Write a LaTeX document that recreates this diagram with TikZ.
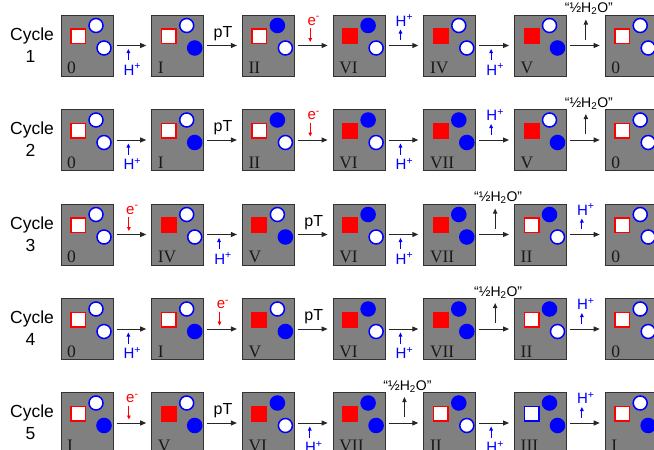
\documentclass[tikz,border=0pt]{standalone}
\usepackage{fontspec}
\setmainfont{Liberation Sans}
\newfontfamily\rmnum{Liberation Serif}
\usetikzlibrary{calc,arrows.meta}
\definecolor{boxgray}{HTML}{808080}
\definecolor{boxedge}{HTML}{333333}
\definecolor{arrgray}{HTML}{262626}
\definecolor{pred}{HTML}{FF0000}
\definecolor{pblue}{HTML}{0000FF}
\tikzset{
 pbox/.style={draw=boxedge, fill=boxgray, line width=1pt, minimum width=52pt, minimum height=61pt, inner sep=0pt, outer sep=0pt},
 sqbase/.style={rectangle, line width=1.5pt, minimum size=14.5pt, inner sep=0pt},
 sqo/.style={sqbase, draw=pred, fill=white},
 sqf/.style={sqbase, draw=pred, fill=pred},
 sqb/.style={sqbase, draw=pblue, fill=white},
 cbase/.style={circle, line width=1.5pt, minimum size=14pt, inner sep=0pt},
 co/.style={cbase, draw=pblue, fill=white},
 cf/.style={cbase, draw=pblue, fill=pblue},
 numlab/.style={font=\rmnum\fontsize{17.5}{17.5}\selectfont, inner sep=0pt, anchor=base west, text=black!90},
 cyc/.style={font=\fontsize{17.5}{17.5}\selectfont, inner sep=0pt, anchor=base},
 arr/.style={draw=arrgray, line width=1pt, -{Triangle[length=6pt,width=5pt]}, shorten <=3.5pt, shorten >=5.5pt},
 harr/.style={draw=pblue, line width=0.9pt, -{Triangle[length=4pt,width=3.6pt]}},
 earr/.style={draw=pred, line width=0.9pt, -{Triangle[length=4pt,width=3.6pt]}},
 warr/.style={draw=arrgray, line width=1pt, -{Triangle[length=5pt,width=4.2pt]}},
 hlab/.style={font=\fontsize{15}{15}\selectfont, text=pblue, inner sep=0pt, anchor=base},
 elab/.style={font=\fontsize{15}{15}\selectfont, text=pred, inner sep=0pt, anchor=base},
 plab/.style={font=\fontsize{16}{16}\selectfont, inner sep=0pt, anchor=base},
 wlab/.style={font=\fontsize{14}{14}\selectfont, inner sep=0pt, anchor=base},
}
\newcommand\stbox[7]{%
 \node[pbox] (#1) at (#2,#3) {};
 \node[#5] (#1s) at ($(#1)+(-9,-9.5)$) {};
 \node[#6] (#1t) at ($(#1)+(9,-20)$) {};
 \node[#7] (#1b) at ($(#1)+(17,2.5)$) {};
 \node[numlab] (#1l) at ($(#1)+(-20,28)$) {#4};
}
\newcommand\StZero[3]{\stbox{#1}{#2}{#3}{0}{sqo}{co}{co}}
\newcommand\StI[3]{\stbox{#1}{#2}{#3}{I}{sqo}{co}{cf}}
\newcommand\StII[3]{\stbox{#1}{#2}{#3}{II}{sqo}{cf}{co}}
\newcommand\StIII[3]{\stbox{#1}{#2}{#3}{III}{sqb}{cf}{cf}}
\newcommand\StIV[3]{\stbox{#1}{#2}{#3}{IV}{sqf}{co}{co}}
\newcommand\StV[3]{\stbox{#1}{#2}{#3}{V}{sqf}{co}{cf}}
\newcommand\StVI[3]{\stbox{#1}{#2}{#3}{VI}{sqf}{cf}{co}}
\newcommand\StVII[3]{\stbox{#1}{#2}{#3}{VII}{sqf}{cf}{cf}}
\newcommand\gap[2]{%
 \draw[arr] (#1) -- (#2);
 \coordinate (#1g) at ($(#1)!0.5!(#2)$);
}
\newcommand\Hin[2]{\gap{#1}{#2}%
 \coordinate (#1p) at ($(#1g)+(-4,14.5)$);
 \coordinate (#1q) at ($(#1g)+(-4,3.5)$);
 \draw[harr] (#1p) -- (#1q);
 \node[hlab] (#1h) at ($(#1g)+(0,29.5)$) {H\textsuperscript{+}};
}
\newcommand\Hout[2]{\gap{#1}{#2}%
 \coordinate (#1p) at ($(#1g)+(-4,-5.5)$);
 \coordinate (#1q) at ($(#1g)+(-4,-16)$);
 \draw[harr] (#1p) -- (#1q);
 \node[hlab] (#1h) at ($(#1g)+(0,-19.5)$) {H\textsuperscript{+}};
}
\newcommand\Elec[2]{\gap{#1}{#2}%
 \coordinate (#1p) at ($(#1g)+(-3.5,-17.5)$);
 \coordinate (#1q) at ($(#1g)+(-3.5,-3.5)$);
 \draw[earr] (#1p) -- (#1q);
 \node[elab] (#1h) at ($(#1g)+(0,-20.5)$) {e\textsuperscript{-}};
}
\newcommand\Ptr[2]{\gap{#1}{#2}%
 \node[plab] (#1h) at ($(#1g)+(0,-8.5)$) {pT};
}
\newcommand\Wat[2]{\gap{#1}{#2}%
 \coordinate (#1p) at ($(#1g)+(0,-6)$);
 \coordinate (#1q) at ($(#1g)+(0,-26)$);
 \draw[warr] (#1p) -- (#1q);
 \node[wlab] (#1h) at ($(#1g)+(3,-33)$) {“½H\textsubscript{2}O”};
}
\newcommand\cyclab[3]{%
 \node[cyc] (#1a) at (32,#2-5.5) {Cycle};
 \node[cyc] (#1b) at (30.5,#2+16.5) {#3};
}
\begin{document}
\begin{tikzpicture}[x=1pt,y=-1pt]
\useasboundingbox (0,0) rectangle (654,450);
% row 1
\cyclab{y1}{45.5}{1}
\StZero{a1}{87}{45.5}
\StI{a2}{177.7}{45.5}
\StII{a3}{268.4}{45.5}
\StVI{a4}{359.1}{45.5}
\StIV{a5}{449.8}{45.5}
\StV{a6}{540.5}{45.5}
\StZero{a7}{631.2}{45.5}
\Hin{a1}{a2}\Ptr{a2}{a3}\Elec{a3}{a4}\Hout{a4}{a5}\Hin{a5}{a6}\Wat{a6}{a7}
% row 2
\cyclab{y2}{140}{2}
\StZero{b1}{87}{140}
\StI{b2}{177.7}{140}
\StII{b3}{268.4}{140}
\StVI{b4}{359.1}{140}
\StVII{b5}{449.8}{140}
\StV{b6}{540.5}{140}
\StZero{b7}{631.2}{140}
\Hin{b1}{b2}\Ptr{b2}{b3}\Elec{b3}{b4}\Hin{b4}{b5}\Hout{b5}{b6}\Wat{b6}{b7}
% row 3
\cyclab{y3}{234.5}{3}
\StZero{c1}{87}{234.5}
\StIV{c2}{177.7}{234.5}
\StV{c3}{268.4}{234.5}
\StVI{c4}{359.1}{234.5}
\StVII{c5}{449.8}{234.5}
\StII{c6}{540.5}{234.5}
\StZero{c7}{631.2}{234.5}
\Elec{c1}{c2}\Hin{c2}{c3}\Ptr{c3}{c4}\Hin{c4}{c5}\Wat{c5}{c6}\Hout{c6}{c7}
% row 4
\cyclab{y4}{329}{4}
\StZero{d1}{87}{329}
\StI{d2}{177.7}{329}
\StV{d3}{268.4}{329}
\StVI{d4}{359.1}{329}
\StVII{d5}{449.8}{329}
\StII{d6}{540.5}{329}
\StZero{d7}{631.2}{329}
\Hin{d1}{d2}\Elec{d2}{d3}\Ptr{d3}{d4}\Hin{d4}{d5}\Wat{d5}{d6}\Hout{d6}{d7}
% row 5
\cyclab{y5}{423}{5}
\StI{e1}{87}{423}
\StV{e2}{177.7}{423}
\StVI{e3}{268.4}{423}
\StVII{e4}{359.1}{423}
\StII{e5}{449.8}{423}
\StIII{e6}{540.5}{423}
\StI{e7}{631.2}{423}
\Elec{e1}{e2}\Ptr{e2}{e3}\Hin{e3}{e4}\Wat{e4}{e5}\Hin{e5}{e6}\Hout{e6}{e7}
\end{tikzpicture}
\end{document}
